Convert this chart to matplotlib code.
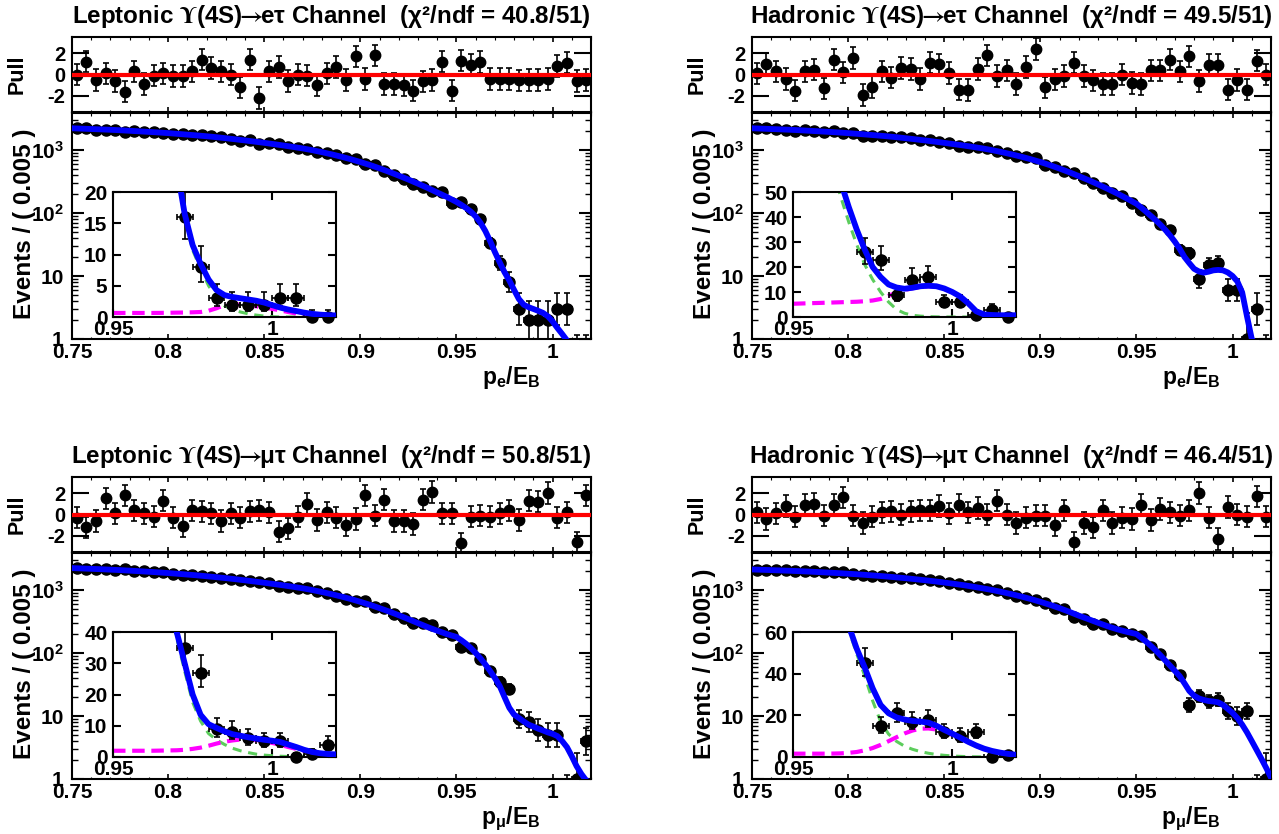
import matplotlib
matplotlib.use('Agg')
import matplotlib.pyplot as plt
import numpy as np
from matplotlib.ticker import FixedLocator, FixedFormatter, MultipleLocator, NullFormatter

plt.rcParams['font.family'] = ['Liberation Sans', 'DejaVu Sans']
plt.rcParams['font.weight'] = 'bold'
plt.rcParams['font.size'] = 14.5
plt.rcParams['mathtext.fontset'] = 'custom'
plt.rcParams['mathtext.rm'] = 'Liberation Sans:bold'
plt.rcParams['mathtext.bf'] = 'Liberation Sans:bold'
plt.rcParams['mathtext.it'] = 'Liberation Sans:bold'
plt.rcParams['mathtext.default'] = 'bf'

# bins of 0.005 from 0.75 to 1.02
bin_x = 0.7525 + 0.005 * np.arange(54)
coarse_x = 0.75 + 0.005 * np.arange(40)      # fit curve below 0.95
fine_x = 0.95 + 0.0025 * np.arange(29)       # fit curves 0.95 - 1.02

# ---------------- leptonic e tau ----------------
le_counts = [2200, 2226, 2117, 2115, 2053, 1968, 2013, 1920, 1916, 1884, 1824, 1774, 1742, 1737,
             1654, 1582, 1510, 1404, 1442, 1250, 1281, 1234, 1130, 1090, 1027, 929, 893, 840,
             736, 724, 601, 587, 461, 403, 347, 289, 260, 223, 213, 146, 150, 114, 80, 34,
             16, 8, 3, 2, 2, 2, 3, 3, 0, 0]
le_pull = [0, 1.2, -0.5, 0.1, -0.6, -1.6, 0.3, -0.9, -0.1, 0.1, -0.15, -0.15, 0.3, 1.4, 0.6,
           0.3, 0, -1.2, 1.4, -2.2, 0.3, 0.7, -0.6, 0, -0.1, -1.0, 0.1, 0.7, -0.5, 1.7, -0.4,
           1.8, -0.9, -0.9, -1.0, -1.5, -0.65, -0.5, 1.2, -1.5, 1.3, 0.9, 1.15, -0.4, -0.4,
           -0.4, -0.55, -0.5, -0.5, -0.4, 0.8, 1.1, -0.6, -0.5]
le_fit = [2215, 2185, 2155, 2125, 2095, 2060, 2020, 1980, 1940, 1900, 1855, 1805, 1755, 1705,
          1655, 1600, 1540, 1480, 1420, 1360, 1300, 1240, 1180, 1120, 1060, 995, 925, 855, 785,
          715, 645, 578, 512, 450, 392, 340, 292, 250, 212, 180]
le_tot = [150, 135, 120, 105, 88, 70, 52, 36, 24, 16.5, 11.5, 8.5, 6.0, 4.3, 3.5, 3.2, 3.0, 2.8,
          2.6, 2.3, 1.9, 1.5, 1.2, 0.95, 0.7, 0.5, 0.38, 0.3, 0.25]
le_bkg = [149.3, 134.3, 119.3, 104.3, 87.3, 69.3, 51.3, 35.3, 23.3, 15.8, 10.7, 7.7, 5.0, 3.0,
          1.8, 1.2, 0.8, 0.5, 0.3, 0.15, 0.05, 0, 0, 0, 0, 0, 0, 0, 0]
le_sig = [0.65, 0.65, 0.65, 0.65, 0.65, 0.65, 0.66, 0.68, 0.7, 0.72, 0.75, 0.8, 1.0, 1.4, 1.9,
          2.0, 2.0, 1.9, 1.7, 1.5, 1.3, 1.05, 0.8, 0.55, 0.3, 0.2, 0.12, 0.08, 0.05]

# ---------------- hadronic e tau ----------------
he_counts = [2205, 2217, 2154, 2092, 2012, 2054, 2020, 1902, 1981, 1889, 1896, 1700, 1682, 1692,
             1618, 1594, 1529, 1435, 1431, 1365, 1275, 1161, 1101, 1107, 1088, 955, 902, 794,
             769, 743, 580, 531, 473, 437, 357, 299, 249, 210, 187, 145, 112, 94, 68, 53,
             26, 23, 9, 15, 16, 6, 6, 1, 3, 0]
he_pull = [0.1, 1.0, 0.3, -0.4, -1.5, 0.3, 0.45, -1.3, 1.4, 0.2, 1.55, -1.9, -1.15, 0.3, -0.3,
           0.6, 0.5, -0.4, 1.1, 0.95, 0.15, -1.4, -1.45, 0.5, 1.8, -0.15, 0.4, -0.9, 0.7, 2.4,
           -1.2, -0.45, -0.15, 1.1, -0.15, -0.55, -0.9, -0.9, 0, -0.8, -0.9, 0.4, 0.4, 1.4,
           0.3, 1.7, -0.6, 0.9, 0.9, -1.4, -0.5, -1.4, 1.3, 0]
he_fit = [2215, 2185, 2155, 2125, 2095, 2060, 2020, 1980, 1940, 1900, 1855, 1805, 1755, 1705,
          1655, 1600, 1540, 1480, 1420, 1360, 1300, 1240, 1180, 1120, 1060, 995, 925, 855, 785,
          715, 645, 575, 508, 445, 386, 333, 285, 242, 204, 170]
he_tot = [140, 122, 105, 90, 77, 65, 54, 44, 35, 27, 20, 16, 13, 11.8, 11.3, 11.7, 12.3, 12.5,
          12.3, 11.4, 10, 8.2, 5.5, 2.3, 1.0, 0.8, 0.7, 0.7, 0.7]
he_bkg = [134, 116, 99, 84, 71, 59, 48, 38, 29, 21, 15, 10, 6, 3, 1.5, 0.7, 0.35, 0.15, 0.05,
          0, 0, 0, 0, 0, 0, 0, 0, 0, 0]
he_sig = [5.3, 5.4, 5.5, 5.6, 5.7, 5.8, 5.9, 6.0, 6.1, 6.3, 6.6, 7.2, 8.5, 9.8, 10.8, 11.5, 12.0,
          12.3, 12.1, 11.2, 9.9, 8.1, 5.4, 2.2, 0.9, 0.7, 0.6, 0.6, 0.6]

# ---------------- leptonic mu tau ----------------
lm_counts = [2201, 2129, 2127, 2191, 2093, 2132, 2028, 1974, 1919, 1938, 1822, 1739, 1752, 1694,
             1632, 1548, 1519, 1444, 1406, 1350, 1282, 1159, 1111, 1088, 1064, 950, 901, 816,
             728, 675, 661, 547, 516, 414, 359, 305, 301, 275, 214, 191, 126, 118, 81, 51,
             35, 27, 9, 8, 6, 5, 5, 0, 1, 4]
lm_pull = [-0.3, -1.2, -0.6, 1.5, 0.1, 1.8, 0.4, 0.1, -0.2, 1.3, -0.3, -1.1, 0.4, 0.3, 0.1,
           -0.6, 0.1, -0.3, 0.3, 0.4, 0.2, -1.6, -1.3, -0.2, 1.0, -0.5, 0.2, -0.3, -1.0, -0.4,
           1.8, -0.1, 1.4, -0.6, -0.6, -0.9, 1.4, 2.1, 0.1, 0.1, -2.7, -0.2, -0.1, -0.2, 0.1,
           0.4, -0.5, 1.3, 1.2, 2.0, -0.3, 0.2, -2.6, 1.8]
lm_fit = [2230, 2200, 2170, 2140, 2105, 2070, 2030, 1990, 1950, 1905, 1860, 1810, 1760, 1710,
          1655, 1600, 1545, 1485, 1425, 1365, 1305, 1245, 1185, 1125, 1065, 1000, 930, 860, 790,
          720, 650, 582, 516, 455, 398, 345, 298, 258, 226, 200]
lm_tot = [180, 160, 140, 120, 100, 82, 66, 52, 40, 30, 20, 13.5, 10.5, 9.3, 8.2, 7.3, 6.8, 6.3,
          5.9, 5.5, 5.2, 4.8, 4.0, 3.2, 2.3, 1.6, 1.2, 0.95, 0.85]
lm_bkg = [178, 158, 138, 118, 98, 80, 64, 50, 38, 27.5, 17.5, 11.5, 7.5, 5.5, 4.0, 2.8, 2.0, 1.4,
          0.9, 0.6, 0.4, 0.25, 0.15, 0.08, 0.05, 0.03, 0.02, 0.01, 0]
lm_sig = [2.0, 2.0, 2.0, 2.0, 2.0, 2.0, 2.05, 2.1, 2.15, 2.3, 2.6, 3.0, 3.6, 4.3, 4.9, 5.3, 5.6,
          5.6, 5.4, 5.0, 4.5, 3.9, 3.2, 2.6, 2.0, 1.5, 1.1, 0.9, 0.8]

# ---------------- hadronic mu tau ----------------
hm_counts = [2117, 2064, 2063, 2068, 1996, 2015, 1986, 1904, 1911, 1903, 1791, 1718, 1700, 1670,
             1627, 1565, 1524, 1473, 1417, 1374, 1289, 1257, 1169, 1118, 1032, 1005, 895, 802,
             747, 682, 614, 526, 493, 369, 350, 293, 291, 239, 223, 202, 187, 124, 97, 65,
             45, 15, 21, 17, 18, 12, 10, 12, 0, 1]
hm_pull = [0.2, -0.4, 0.1, 0.8, -0.2, 0.9, 1.0, -0.1, 0.9, 1.6, -0.1, -0.8, -0.2, 0.2, 0.3, 0.0,
           0.3, 0.4, 0.4, 0.8, 0.1, 0.9, 0.2, 0.6, 0.0, 1.3, 0.0, -0.8, -0.3, -0.1, -0.1, -1.0,
           0.4, -2.6, -0.8, -1.2, 0.4, -0.8, -0.3, -0.4, 0.9, -0.5, 0.5, 0.2, -0.1, 0.4, 2.0,
           -0.3, -2.3, 0.7, 0.0, -0.2, 1.7, -0.2]
hm_fit = [2120, 2095, 2070, 2045, 2020, 1990, 1960, 1925, 1890, 1855, 1815, 1775, 1730, 1685,
          1640, 1590, 1540, 1485, 1430, 1375, 1315, 1255, 1195, 1130, 1065, 1000, 930, 860, 790,
          720, 650, 582, 516, 452, 392, 345, 302, 266, 238, 217]
hm_tot = [200, 175, 152, 130, 110, 92, 76, 63, 52, 43, 33, 25, 21, 19, 18, 17.3, 17, 16.5, 15,
          13, 11.2, 9.3, 7.3, 5.5, 4.0, 2.9, 2.1, 1.5, 1.05]
hm_bkg = [198.4, 173.4, 150.4, 128.4, 108.4, 90.4, 74.3, 61, 49.5, 39, 27, 17, 11, 7.5, 5.2,
          3.7, 2.6, 1.8, 1.2, 0.8, 0.5, 0.3, 0.15, 0.08, 0.05, 0.03, 0.02, 0.01, 0]
hm_sig = [1.6, 1.6, 1.6, 1.6, 1.6, 1.65, 1.75, 2.0, 2.4, 3.2, 4.3, 5.8, 7.6, 9.5, 11.3, 12.7,
          13.6, 13.7, 13.2, 12.1, 10.6, 9.0, 7.1, 5.3, 3.8, 2.7, 1.9, 1.35, 0.95]

W, H = 1279, 834
fig = plt.figure(figsize=(W / 100, H / 100), dpi=100)


def rect(x0, y0, x1, y1):
    return [x0 / W, 1 - y1 / H, (x1 - x0) / W, (y1 - y0) / H]


def frame(ax):
    for s in ax.spines.values():
        s.set_linewidth(1.5)


def panel(dx, dy, title, xlab, counts, pull, fit, tot, bkg, sig, itop, istep):
    counts = np.array(counts, float)
    lo = np.sqrt(counts + 0.25) - 0.5
    hi = np.where(counts == 0, 1.15, np.sqrt(counts + 0.25) + 0.5)

    # pull pad
    ap = fig.add_axes(rect(72 + dx, 37 + dy, 591 + dx, 112 + dy))
    ap.errorbar(bin_x, pull, yerr=1, fmt='o', color='k', ms=7.5, capsize=2,
                elinewidth=1.2, capthick=1.2)
    ap.axhline(0, color='#ff0000', lw=3, zorder=5)
    ap.set_xlim(0.75, 1.02)
    ap.set_ylim(-3.5, 3.5)
    ap.set_yticks([-2, 0, 2])
    ap.set_yticklabels(['-2', '0', '2'])
    ap.xaxis.set_major_locator(MultipleLocator(0.05))
    ap.xaxis.set_minor_locator(MultipleLocator(0.01))
    ap.xaxis.set_major_formatter(NullFormatter())
    ap.tick_params(axis='y', which='major', direction='in', length=12, width=1.5,
                   left=True, right=True, pad=5)
    ap.tick_params(axis='x', which='major', direction='in', length=3.5, width=1.2,
                   top=True, bottom=True)
    ap.tick_params(axis='x', which='minor', direction='in', length=1.8, width=0.8,
                   top=True, bottom=True)
    frame(ap)

    # main pad
    am = fig.add_axes(rect(72 + dx, 113 + dy, 591 + dx, 339 + dy))
    am.set_yscale('log')
    am.errorbar(bin_x, counts, yerr=[lo, hi], xerr=0.0025, fmt='o', color='k', ms=8,
                capsize=2, elinewidth=1.2, capthick=1.2)
    am.plot(np.concatenate([coarse_x, fine_x]), np.concatenate([fit, tot]),
            color='#0000ff', lw=4.2, zorder=4)
    am.set_xlim(0.75, 1.02)
    am.set_ylim(1, 3870)
    am.xaxis.set_major_locator(FixedLocator([0.75, 0.8, 0.85, 0.9, 0.95, 1.0]))
    am.xaxis.set_major_formatter(FixedFormatter(['0.75', '0.8', '0.85', '0.9', '0.95', '1']))
    am.xaxis.set_minor_locator(MultipleLocator(0.01))
    am.yaxis.set_major_locator(FixedLocator([1, 10, 100, 1000]))
    am.yaxis.set_major_formatter(FixedFormatter(['1', '10', r'$10^{2}$', r'$10^{3}$']))
    am.yaxis.set_minor_locator(FixedLocator([m * 10 ** e for e in range(4)
                                             for m in range(2, 10)]))
    am.yaxis.set_minor_formatter(NullFormatter())
    am.tick_params(axis='x', which='major', direction='in', length=3.8, width=1.2,
                   top=True, bottom=True, pad=3, labelsize=15)
    am.tick_params(axis='x', which='minor', direction='in', length=1.8, width=0.8,
                   top=True, bottom=True)
    am.tick_params(axis='y', which='major', direction='in', length=8.5, width=1.5,
                   left=True, right=True, pad=6, labelsize=15)
    am.tick_params(axis='y', which='minor', direction='in', length=4.3, width=1.0,
                   left=True, right=True)
    frame(am)

    # inset
    ai = fig.add_axes(rect(113 + dx, 192 + dy, 336 + dx, 317 + dy))
    ai.set_zorder(10)
    ai.plot(fine_x, bkg, color='#5ccd5c', lw=2.2, ls=(0, (3, 2.2)))
    ai.plot(fine_x, sig, color='#ff00ff', lw=3, ls=(0, (3, 1.6)))
    sel = (bin_x > 0.95) & (counts <= itop)
    ai.errorbar(bin_x[sel], counts[sel], yerr=[lo[sel], hi[sel]], xerr=0.0025, fmt='none',
                ecolor='k', capsize=2, elinewidth=1.2, capthick=1.2)
    ai.plot(bin_x[sel], counts[sel], 'o', color='k', ms=8, clip_on=False, zorder=3)
    ai.plot(fine_x, tot, color='#0000ff', lw=4.2, zorder=4)
    ai.set_xlim(0.95, 1.02)
    ai.set_ylim(0, itop)
    ai.xaxis.set_major_locator(FixedLocator([0.95, 1.0]))
    ai.xaxis.set_major_formatter(FixedFormatter(['0.95', '1']))
    ai.yaxis.set_major_locator(MultipleLocator(istep))
    ai.tick_params(axis='both', direction='in', length=5.5, width=1.5,
                   left=True, right=True, top=True, bottom=True, labelsize=15)
    ai.tick_params(axis='x', pad=2)
    ai.tick_params(axis='y', pad=4)
    frame(ai)

    # texts
    fig.text((72 + 591) / 2 / W + dx / W, 1 - (23 + dy) / H, title, ha='center',
             va='baseline', fontsize=17.4, math_fontfamily='stix')
    fig.text((17 + dx) / W, 1 - (74 + dy) / H, 'Pull', rotation=90, ha='center',
             va='center', fontsize=15.5)
    fig.text((25 + dx) / W, 1 - (224 + dy) / H, 'Events / ( 0.005 )', rotation=90,
             ha='center', va='center', fontsize=17.5)
    fig.text((511 + dx) / W, 1 - (384 + dy) / H, xlab, ha='center', va='baseline',
             fontsize=16.5)


arrow = r'$\Upsilon$(4S)$\!\!\rightarrow\!\!$'
panel(0, 0, 'Leptonic ' + arrow + 'eτ Channel  (χ²/ndf = 40.8/51)',
      r'$p_{e}/E_{B}$', le_counts, le_pull, le_fit, le_tot, le_bkg, le_sig, 20, 5)
panel(680, 0, 'Hadronic ' + arrow + 'eτ Channel  (χ²/ndf = 49.5/51)',
      r'$p_{e}/E_{B}$', he_counts, he_pull, he_fit, he_tot, he_bkg, he_sig, 50, 10)
panel(0, 440, 'Leptonic ' + arrow + 'μτ Channel  (χ²/ndf = 50.8/51)',
      r'$p_{\mu}/E_{B}$', lm_counts, lm_pull, lm_fit, lm_tot, lm_bkg, lm_sig, 40, 10)
panel(680, 440, 'Hadronic ' + arrow + 'μτ Channel  (χ²/ndf = 46.4/51)',
      r'$p_{\mu}/E_{B}$', hm_counts, hm_pull, hm_fit, hm_tot, hm_bkg, hm_sig, 60, 20)

fig.savefig('out.png', dpi=100)
